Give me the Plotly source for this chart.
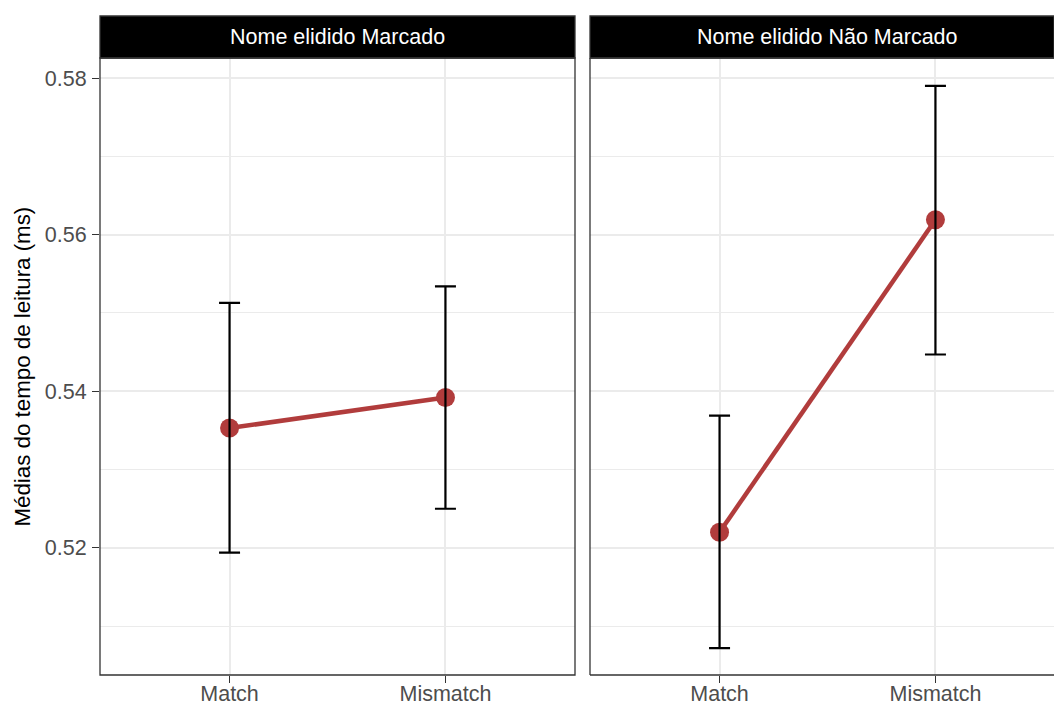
import plotly.graph_objects as go

# Reading-time means per condition, with 95% interval bounds
conditions = ["Match", "Mismatch"]
panel_titles = ["Nome elidido Marcado", "Nome elidido Não Marcado"]

means_marcado = [0.5353, 0.5392]
lower_marcado = [0.5194, 0.5250]
upper_marcado = [0.5513, 0.5534]

means_nao_marcado = [0.5220, 0.5619]
lower_nao_marcado = [0.5072, 0.5447]
upper_nao_marcado = [0.5369, 0.5790]

y_ticks = [0.52, 0.54, 0.56, 0.58]
y_title = "Médias do tempo de leitura (ms)"

W, H = 1054, 706
RED = "#B13C3C"
FONT = "Liberation Sans, Arial, Helvetica, sans-serif"

fig = go.Figure()

panels = [
    (means_marcado, lower_marcado, upper_marcado, "x", "y"),
    (means_nao_marcado, lower_nao_marcado, upper_nao_marcado, "x2", "y2"),
]

for means, lo, hi, xa, ya in panels:
    fig.add_trace(go.Scatter(
        x=conditions, y=means, xaxis=xa, yaxis=ya, mode="lines+markers",
        line=dict(color=RED, width=4.5),
        marker=dict(color=RED, size=19),
        showlegend=False, hoverinfo="skip",
    ))
    fig.add_trace(go.Scatter(
        x=conditions, y=means, xaxis=xa, yaxis=ya, mode="markers",
        marker=dict(color="rgba(0,0,0,0)", size=1),
        error_y=dict(
            type="data", symmetric=False,
            array=[h - m for h, m in zip(hi, means)],
            arrayminus=[m - l for m, l in zip(means, lo)],
            color="black", thickness=2.2, width=10.5,
        ),
        showlegend=False, hoverinfo="skip",
    ))

# panel geometry in pixels
left_x = (100, 575)
right_x = (590, 1054)
right_full_width = 475
plot_top, plot_bottom = 58, 675
strip_top = 16
unit_px = (left_x[1] - left_x[0]) / 2.2

def px_x(v):
    return v / W

def px_y(v):
    return 1 - v / H

y_range = [0.50377, 0.58256]

grid = "#EBEBEB"
axis_common = dict(
    showline=False, zeroline=False, showgrid=True, gridcolor=grid, gridwidth=1.7,
    ticks="outside", ticklen=7, tickwidth=1.3, tickcolor="#333333",
    tickfont=dict(family=FONT, size=21.5, color="#4D4D4D"),
    automargin=False,
)
minor_grid = dict(dtick=0.01, tick0=0.51, showgrid=True, gridcolor=grid,
                  gridwidth=0.9, ticks="")

fig.update_layout(
    width=W, height=H,
    margin=dict(l=0, r=0, t=0, b=0, autoexpand=False),
    paper_bgcolor="white", plot_bgcolor="white",
    font=dict(family=FONT),
    xaxis=dict(domain=[px_x(left_x[0]), px_x(left_x[1])], type="category",
               categoryorder="array", categoryarray=conditions,
               range=[-0.6, 1.6], anchor="y", ticklabelstandoff=-8,
               **axis_common),
    xaxis2=dict(domain=[px_x(right_x[0]), px_x(right_x[1])], type="category",
                categoryorder="array", categoryarray=conditions,
                range=[-0.6, -0.6 + (right_x[1] - right_x[0]) / unit_px],
                anchor="y2", ticklabelstandoff=-8, **axis_common),
    yaxis=dict(domain=[px_y(plot_bottom), px_y(plot_top)], range=y_range,
               tickvals=y_ticks, tickformat=".2f", anchor="x",
               ticklabelstandoff=1, minor=minor_grid, **axis_common),
    yaxis2=dict(domain=[px_y(plot_bottom), px_y(plot_top)], range=y_range,
                tickvals=y_ticks, showticklabels=False, anchor="x2",
                minor=minor_grid, **{**axis_common, "ticks": ""}),
)

shapes = []
annotations = []
border = dict(color="#333333", width=1.3)
for (x0, x1), title, open_right in [(left_x, panel_titles[0], False),
                                    (right_x, panel_titles[1], True)]:
    # strip header; the right panel runs past the page edge
    centre_right = x0 + right_full_width if open_right else x1
    shapes.append(dict(type="rect", xref="paper", yref="paper",
                       x0=px_x(x0), x1=px_x(x1), y0=px_y(plot_top), y1=px_y(strip_top),
                       fillcolor="black", line=dict(color="#333333", width=1.3),
                       layer="above"))
    annotations.append(dict(text=title, xref="paper", yref="paper",
                            x=(px_x(x0) + px_x(centre_right)) / 2,
                            y=(px_y(plot_top) + px_y(strip_top)) / 2,
                            xanchor="center", yanchor="middle",
                            showarrow=False,
                            font=dict(family=FONT, size=21.5, color="white")))
    # panel border
    if open_right:
        for sx0, sy0, sx1, sy1 in [(x0, plot_top, x0, plot_bottom),
                                   (x0, plot_bottom, x1, plot_bottom),
                                   (x0, plot_top, x1, plot_top)]:
            shapes.append(dict(type="line", xref="paper", yref="paper",
                               x0=px_x(sx0), x1=px_x(sx1), y0=px_y(sy0), y1=px_y(sy1),
                               line=border, layer="above"))
    else:
        shapes.append(dict(type="rect", xref="paper", yref="paper",
                           x0=px_x(x0), x1=px_x(x1), y0=px_y(plot_bottom), y1=px_y(plot_top),
                           line=border, layer="above"))

# y-axis title
annotations.append(dict(text=y_title, xref="paper", yref="paper",
                        x=px_x(22), y=(px_y(plot_top) + px_y(plot_bottom)) / 2,
                        xanchor="center", yanchor="middle", textangle=-90,
                        showarrow=False,
                        font=dict(family=FONT, size=22.3, color="black")))

fig.update_layout(shapes=shapes, annotations=annotations)

fig.write_html("out.html")
